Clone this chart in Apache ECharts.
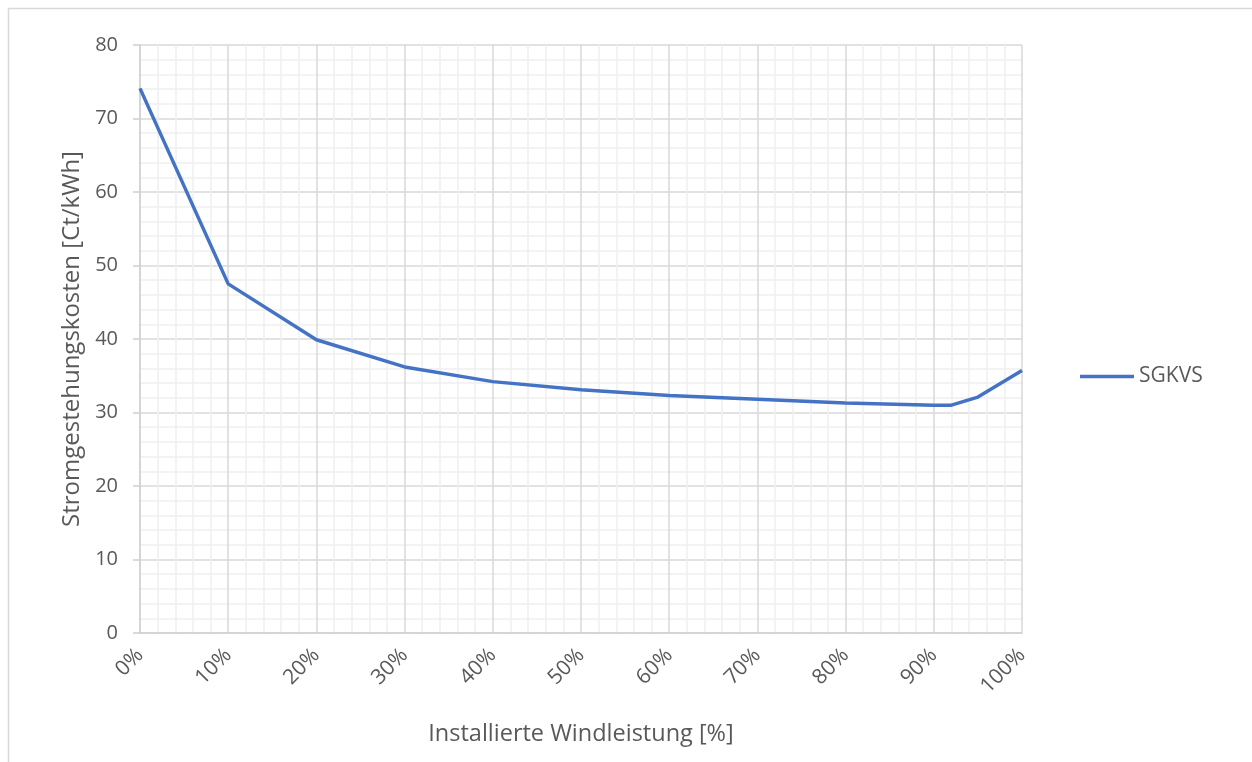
<!DOCTYPE html>
<html>
<head>
<meta charset="utf-8">
<script src="https://cdn.jsdelivr.net/npm/echarts@6/dist/echarts.min.js"></script>
<style>
html,body{margin:0;padding:0;background:#fff;}
#c{width:1252px;height:762px;}
</style>
</head>
<body>
<div id="c"></div>
<script>
const seriesName = 'SGKVS';
const windShare = [0, 10, 20, 30, 40, 50, 60, 70, 80, 90, 92, 95, 100];
const costs = [74.1, 47.5, 39.9, 36.2, 34.2, 33.1, 32.3, 31.8, 31.3, 31.0, 31.0, 32.1, 35.7];
const xTitle = 'Installierte Windleistung [%]';
const yTitle = 'Stromgestehungskosten [Ct/kWh]';

const FONT = '"Open Sans", "Liberation Sans", sans-serif';
const chart = echarts.init(document.getElementById('c'), null, {renderer: 'canvas'});
chart.setOption({
  backgroundColor: '#ffffff',
  animation: false,
  graphic: [{
    type: 'rect',
    shape: {x: 8.5, y: 8.5, width: 1260, height: 780},
    style: {fill: 'none', stroke: '#d9d9d9', lineWidth: 1.5},
    silent: true
  }],
  grid: {left: 140, right: 230, top: 45, bottom: 129},
  legend: {
    left: 1075, top: 361,
    icon: 'rect',
    itemWidth: 54, itemHeight: 3.5, itemGap: 10,
    textStyle: {color: '#595959', fontSize: 21, fontFamily: FONT, padding: [0, 0, 0, 0]},
    data: [seriesName]
  },
  xAxis: {
    type: 'value', min: 0, max: 100, interval: 10,
    name: xTitle, nameLocation: 'middle', nameGap: 89,
    nameTextStyle: {color: '#595959', fontSize: 23.5, fontFamily: FONT},
    axisLine: {show: true, lineStyle: {color: '#d0d0d0', width: 1.5}},
    axisTick: {show: false},
    axisLabel: {rotate: 45, formatter: '{value}%', color: '#595959', fontSize: 21, fontFamily: FONT, margin: 19},
    splitLine: {show: true, lineStyle: {color: '#d9d9d9', width: 1.5}},
    minorTick: {show: false, splitNumber: 5},
    minorSplitLine: {show: true, lineStyle: {color: '#f0f0f0', width: 1.5}}
  },
  yAxis: {
    type: 'value', min: 0, max: 80, interval: 10,
    name: yTitle, nameLocation: 'middle', nameGap: 56,
    nameTextStyle: {color: '#595959', fontSize: 24, fontFamily: FONT},
    axisLine: {show: true, lineStyle: {color: '#d0d0d0', width: 1.5}},
    axisTick: {show: true, length: 7, lineStyle: {color: '#d0d0d0', width: 1.5}},
    axisLabel: {color: '#595959', fontSize: 20, fontFamily: FONT, margin: 22},
    splitLine: {show: true, lineStyle: {color: '#d9d9d9', width: 1.5}},
    minorTick: {show: false, splitNumber: 5},
    minorSplitLine: {show: true, lineStyle: {color: '#f0f0f0', width: 1.5}}
  },
  series: [{
    name: seriesName,
    type: 'line',
    data: windShare.map((x, i) => [x, costs[i]]),
    symbol: 'none',
    lineStyle: {color: '#4472C4', width: 3.5},
    itemStyle: {color: '#4472C4'}
  }]
});
</script>
</body>
</html>
